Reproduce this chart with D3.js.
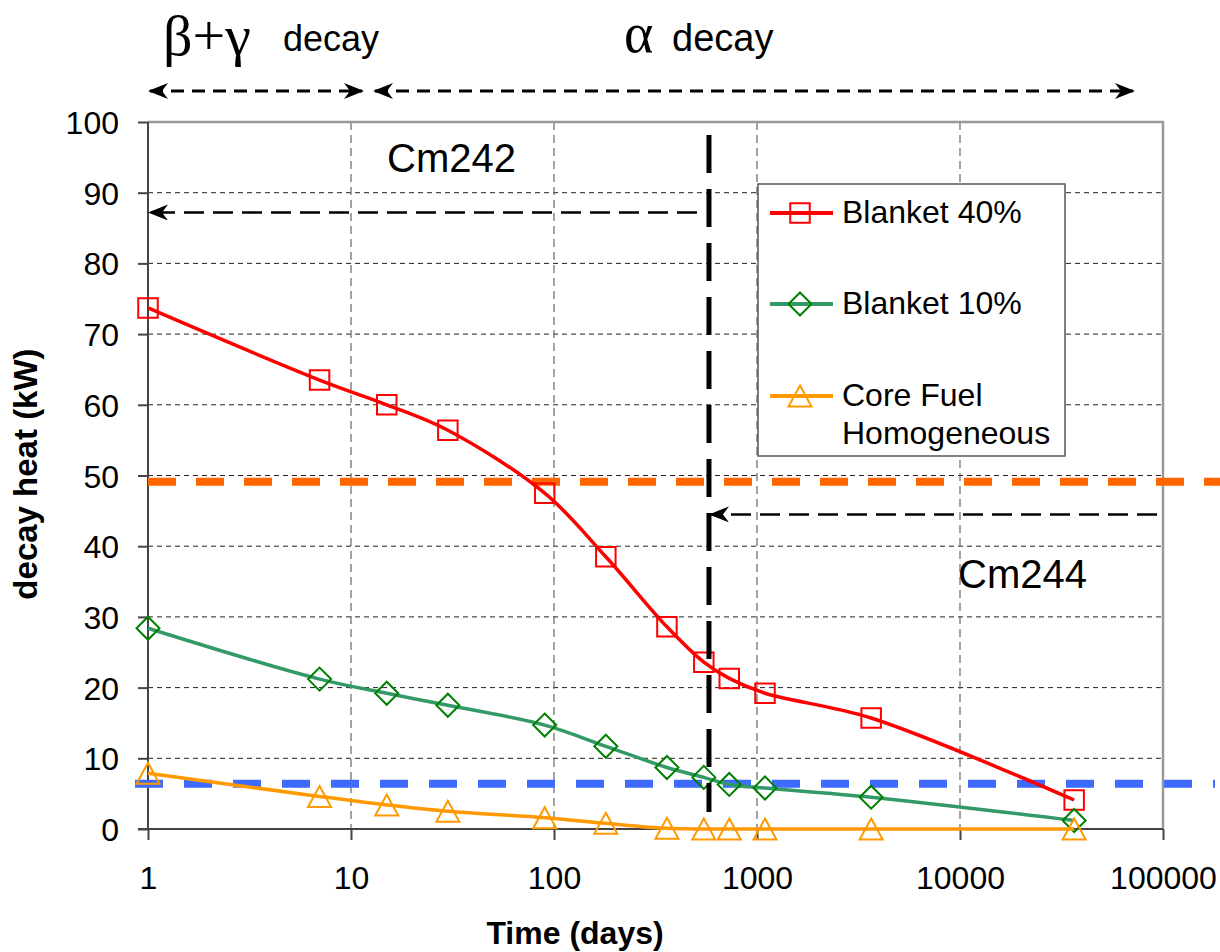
<!DOCTYPE html>
<html>
<head>
<meta charset="utf-8">
<script src="https://cdn.jsdelivr.net/npm/d3@7/dist/d3.min.js"></script>
<style>
  body { margin: 0; background: #fff; }
  svg { display: block; font-family: Arial, "Liberation Sans", sans-serif; }
</style>
</head>
<body>
<svg id="paper"></svg>
<script>
// data
const days = [1, 7, 15, 30, 90, 180, 360, 547, 730, 1095, 3650, 36500];
const blanket40 = [73.7, 63.5, 60.0, 56.4, 47.5, 38.5, 28.6, 23.6, 21.3, 19.2, 15.7, 4.1];
const blanket10 = [28.4, 21.2, 19.2, 17.5, 14.7, 11.7, 8.7, 7.3, 6.3, 5.8, 4.5, 1.2];
const coreFuel = [7.9, 4.6, 3.4, 2.5, 1.6, 0.8, 0.1, 0, 0, 0, 0, 0];
const xTicks = [1, 10, 100, 1000, 10000, 100000];
const yTicks = [0, 10, 20, 30, 40, 50, 60, 70, 80, 90, 100];
const orangeLevel = 49.1;
const blueLevel = 6.4;
const splitDay = 580;

const series = [
  {name: "Blanket 40%", values: blanket40, line: "#ff0000", mark: "#ff0000", shape: "square"},
  {name: "Blanket 10%", values: blanket10, line: "#339966", mark: "#008000", shape: "diamond"},
  {name: "Core Fuel|Homogeneous", values: coreFuel, line: "#ff9900", mark: "#ff9900", shape: "triangle"}
];

let margin = {top: 122, right: 57, bottom: 123, left: 148},
    width = 1220 - margin.left - margin.right,
    height = 952 - margin.top - margin.bottom;

let svg = d3.select("#paper").attr("width", 1220).attr("height", 952);

let defs = svg.append("defs");
defs.append("marker").attr("id", "head")
    .attr("viewBox", "0 0 20 16").attr("refX", 18).attr("refY", 8)
    .attr("markerWidth", 20).attr("markerHeight", 16)
    .attr("markerUnits", "userSpaceOnUse").attr("orient", "auto-start-reverse")
  .append("path").attr("d", "M0,0 L20,8 L0,16 L6,8 Z").attr("fill", "#000");

let paper = svg.append("g").attr("transform", "translate(" + margin.left + "," + margin.top + ")");

let x = d3.scaleLog().domain([1, 100000]).range([0, width]);
let y = d3.scaleLinear().domain([0, 100]).range([height, 0]);

// grid
paper.selectAll(".hgrid").data(yTicks.filter(d => d > 0 && d < 100)).enter()
  .append("line")
  .attr("x1", 0).attr("x2", width)
  .attr("y1", d => y(d)).attr("y2", d => y(d))
  .style("stroke", "#222").style("stroke-width", 1).style("stroke-dasharray", "5,4");
paper.selectAll(".vgrid").data(xTicks.filter(d => d > 1 && d < 100000)).enter()
  .append("line")
  .attr("x1", d => x(d)).attr("x2", d => x(d))
  .attr("y1", 0).attr("y2", height)
  .style("stroke", "#666").style("stroke-width", 1.2).style("stroke-dasharray", "8,5");

// frame
paper.append("path").attr("d", "M0,0 H" + width + " V" + height)
  .style("fill", "none").style("stroke", "#999").style("stroke-width", 2.5);

// axes
let yAxis = paper.append("g").call(d3.axisLeft(y).tickValues(yTicks).tickSize(10).tickSizeOuter(0));
let xAxis = paper.append("g").attr("transform", "translate(0," + height + ")")
  .call(d3.axisBottom(x).tickValues(xTicks).tickFormat(d3.format("d")).tickSize(11).tickSizeOuter(0));
[yAxis, xAxis].forEach(a => {
  a.select(".domain").style("stroke", "#444").style("stroke-width", 2);
  a.selectAll(".tick line").style("stroke", "#444").style("stroke-width", 2);
  a.selectAll("text").style("font-size", "32px").style("fill", "#000")
    .style("font-family", "Arial, 'Liberation Sans', sans-serif");
});
yAxis.select(".domain").attr("d", "M0,0 V" + height);
xAxis.select(".domain").attr("d", "M-10,0 H" + width);
yAxis.selectAll("text").attr("x", -29).attr("dy", "0.36em");
xAxis.selectAll("text").attr("y", 37);

// level lines
paper.append("line")
  .attr("x1", 0).attr("x2", 1220 - margin.left)
  .attr("y1", y(orangeLevel)).attr("y2", y(orangeLevel))
  .style("stroke", "#ff6600").style("stroke-width", 8).style("stroke-dasharray", "28,20");
paper.append("line")
  .attr("x1", -13).attr("x2", 1215 - margin.left)
  .attr("y1", y(blueLevel)).attr("y2", y(blueLevel))
  .style("stroke", "#3d6bff").style("stroke-width", 8).style("stroke-dasharray", "28,21");

// series lines
let line = d3.line().x((d, i) => x(days[i])).y(d => y(d)).curve(d3.curveCatmullRom.alpha(0.5));
function symbolFor(shape) {
  if (shape === "square") return d3.symbol().type(d3.symbolSquare).size(380)();
  if (shape === "diamond") return "M0,-11.5 L11.5,0 L0,11.5 L-11.5,0 Z";
  return "M0,-10.5 L11.5,10.5 L-11.5,10.5 Z";
}
series.forEach(s => {
  paper.append("path").datum(s.values).attr("d", line)
    .style("fill", "none").style("stroke", s.line).style("stroke-width", 3.5);
  paper.selectAll(null).data(s.values).enter().append("path")
    .attr("transform", (d, i) => "translate(" + x(days[i]) + "," + y(d) + ")")
    .attr("d", symbolFor(s.shape))
    .style("fill", "none").style("stroke", s.mark).style("stroke-width", 2);
});

// Cm242 / Cm244 split line and arrows
paper.append("line")
  .attr("x1", x(splitDay)).attr("x2", x(splitDay)).attr("y1", 13).attr("y2", 690)
  .style("stroke", "#000").style("stroke-width", 5).style("stroke-dasharray", "38,16");
paper.append("line")
  .attr("x1", x(splitDay) - 12).attr("x2", 2).attr("y1", y(87.2)).attr("y2", y(87.2))
  .attr("marker-end", "url(#head)")
  .style("stroke", "#000").style("stroke-width", 2.5).style("stroke-dasharray", "20,9");
paper.append("line")
  .attr("x1", width - 6).attr("x2", x(splitDay) + 2).attr("y1", y(44.5)).attr("y2", y(44.5))
  .attr("marker-end", "url(#head)")
  .style("stroke", "#000").style("stroke-width", 2.5).style("stroke-dasharray", "20,9");
paper.append("text").attr("x", 239).attr("y", 50).text("Cm242")
  .style("font-size", "40px");
paper.append("text").attr("x", 810).attr("y", 466).text("Cm244")
  .style("font-size", "40px");

// decay range arrows above the plot
function rangeArrow(a, b) {
  svg.append("line").attr("x1", a).attr("x2", b).attr("y1", 91).attr("y2", 91)
    .attr("marker-start", "url(#head)").attr("marker-end", "url(#head)")
    .style("stroke", "#000").style("stroke-width", 3).style("stroke-dasharray", "13,8");
}
rangeArrow(150, 362);
rangeArrow(375, 1133);
svg.append("text").attr("x", 163).attr("y", 55)
  .style("font-family", "'Liberation Serif', 'Times New Roman', serif").style("font-size", "58px")
  .text("β+γ");
svg.append("text").attr("x", 283).attr("y", 51).style("font-size", "36px").text("decay");
svg.append("text").attr("x", 624).attr("y", 52)
  .style("font-family", "'Liberation Serif', 'Times New Roman', serif").style("font-size", "56px").text("α");
svg.append("text").attr("x", 672).attr("y", 51).style("font-size", "38px").text("decay");

// legend
let legend = paper.append("g").attr("transform", "translate(" + (758 - margin.left) + "," + (184 - margin.top) + ")");
legend.append("rect").attr("width", 307).attr("height", 272)
  .style("fill", "#fff").style("stroke", "#555").style("stroke-width", 1.5);
[29, 120, 212].forEach((ly, k) => {
  let s = series[k];
  legend.append("line").attr("x1", 12).attr("x2", 75).attr("y1", ly).attr("y2", ly)
    .style("stroke", s.line).style("stroke-width", 4);
  legend.append("path").attr("transform", "translate(42," + ly + ")")
    .attr("d", symbolFor(s.shape)).style("fill", "none").style("stroke", s.mark).style("stroke-width", 2);
  s.name.split("|").forEach((t, j) => {
    legend.append("text").attr("x", 84).attr("y", ly + 10 + j * 38).text(t).style("font-size", "32px");
  });
});

// axis titles
svg.append("text").attr("transform", "translate(37,474) rotate(-90)")
  .attr("text-anchor", "middle").style("font-size", "33px").style("font-weight", "bold")
  .text("decay heat (kW)");
svg.append("text").attr("x", 575).attr("y", 944).attr("text-anchor", "middle")
  .style("font-size", "32px").style("font-weight", "bold").text("Time (days)");
</script>
</body>
</html>
